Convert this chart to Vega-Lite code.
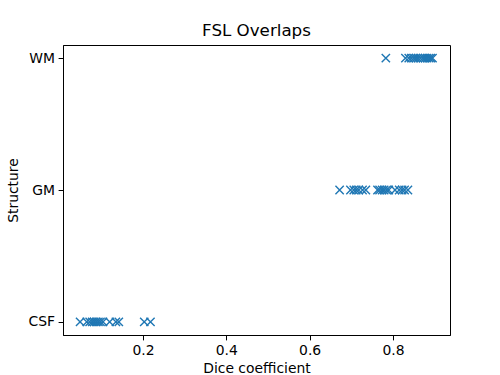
{
  "$schema": "https://vega.github.io/schema/vega-lite/v6.json",
  "autosize": "none",
  "width": 387,
  "height": 290,
  "padding": {"left": 63, "top": 45, "right": 50, "bottom": 40},
  "title": {"text": "FSL Overlaps", "fontSize": 16.7, "fontWeight": "normal", "font": "DejaVu Sans", "color": "black", "offset": 5},
  "data": {"values": [
    {"structure": "CSF", "dice": 0.049},
    {"structure": "CSF", "dice": 0.065},
    {"structure": "CSF", "dice": 0.072},
    {"structure": "CSF", "dice": 0.078},
    {"structure": "CSF", "dice": 0.083},
    {"structure": "CSF", "dice": 0.088},
    {"structure": "CSF", "dice": 0.093},
    {"structure": "CSF", "dice": 0.098},
    {"structure": "CSF", "dice": 0.104},
    {"structure": "CSF", "dice": 0.12},
    {"structure": "CSF", "dice": 0.135},
    {"structure": "CSF", "dice": 0.142},
    {"structure": "CSF", "dice": 0.203},
    {"structure": "CSF", "dice": 0.218},
    {"structure": "GM", "dice": 0.672},
    {"structure": "GM", "dice": 0.698},
    {"structure": "GM", "dice": 0.706},
    {"structure": "GM", "dice": 0.712},
    {"structure": "GM", "dice": 0.718},
    {"structure": "GM", "dice": 0.727},
    {"structure": "GM", "dice": 0.735},
    {"structure": "GM", "dice": 0.763},
    {"structure": "GM", "dice": 0.768},
    {"structure": "GM", "dice": 0.774},
    {"structure": "GM", "dice": 0.779},
    {"structure": "GM", "dice": 0.785},
    {"structure": "GM", "dice": 0.79},
    {"structure": "GM", "dice": 0.805},
    {"structure": "GM", "dice": 0.815},
    {"structure": "GM", "dice": 0.822},
    {"structure": "GM", "dice": 0.828},
    {"structure": "GM", "dice": 0.836},
    {"structure": "WM", "dice": 0.783},
    {"structure": "WM", "dice": 0.83},
    {"structure": "WM", "dice": 0.838},
    {"structure": "WM", "dice": 0.844},
    {"structure": "WM", "dice": 0.85},
    {"structure": "WM", "dice": 0.855},
    {"structure": "WM", "dice": 0.86},
    {"structure": "WM", "dice": 0.866},
    {"structure": "WM", "dice": 0.872},
    {"structure": "WM", "dice": 0.877},
    {"structure": "WM", "dice": 0.882},
    {"structure": "WM", "dice": 0.887},
    {"structure": "WM", "dice": 0.891},
    {"structure": "WM", "dice": 0.895}
  ]},
  "mark": {
    "type": "point",
    "shape": "M-1,-1L1,1M-1,1L1,-1",
    "filled": false,
    "size": 69,
    "strokeWidth": 1.4,
    "color": "#1f77b4",
    "opacity": 1
  },
  "encoding": {
    "x": {
      "field": "dice", "type": "quantitative",
      "scale": {"domain": [0.008, 0.937], "nice": false, "zero": false},
      "axis": {"values": [0.2, 0.4, 0.6, 0.8], "format": ".1f", "title": "Dice coefficient"}
    },
    "y": {
      "field": "structure", "type": "nominal",
      "scale": {"type": "point", "domain": ["WM", "GM", "CSF"], "padding": 0.1},
      "axis": {"title": "Structure", "titlePadding": 8}
    }
  },
  "config": {
    "view": {"stroke": "black", "strokeWidth": 1},
    "axis": {
      "grid": false,
      "domainColor": "black",
      "tickColor": "black",
      "tickSize": 4.9,
      "tickWidth": 1,
      "labelPadding": 3.5,
      "labelFont": "DejaVu Sans",
      "labelFontSize": 13.9,
      "labelColor": "black",
      "titleFont": "DejaVu Sans",
      "titleFontSize": 13.9,
      "titleFontWeight": "normal",
      "titleColor": "black",
      "titlePadding": 4
    }
  }
}
